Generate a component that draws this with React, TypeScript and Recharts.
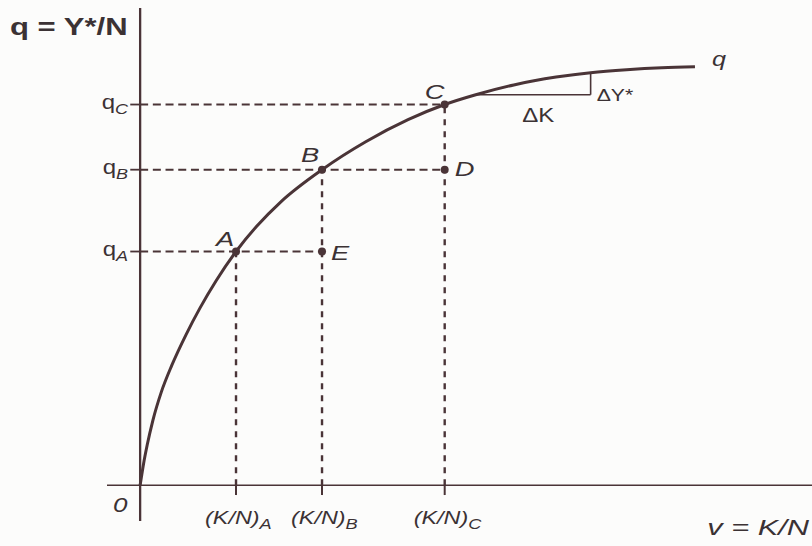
import React from 'react';
import { ComposedChart, Line, XAxis, YAxis, ReferenceLine, ReferenceDot } from 'recharts';

// production function q = f(v), sampled off the figure
const curveV = [0, 0.05, 0.1, 0.18, 0.3, 0.45, 0.65, 0.85, 1.08, 1.36, 1.65, 2.0, 2.58, 3.2, 3.8, 4.32, 4.76, 5.3, 5.9, 6.39, 6.9, 7.4, 7.87];
const curveQ = [0, 0.45, 0.82, 1.32, 1.9, 2.45, 3.07, 3.62, 4.18, 4.77, 5.28, 5.79, 6.44, 7.01, 7.46, 7.77, 7.97, 8.17, 8.33, 8.42, 8.48, 8.52, 8.54];

const points = ['A', 'B', 'C'];
const kTicks = [1.36, 2.58, 4.32];
const qTicks = [4.77, 6.44, 7.77];

// the ΔK / ΔY* step on the flat part of the curve
const stepV = [4.76, 6.39];
const stepQ = [7.97, 8.42];

const INK = '#3b3234';
const LINE = '#4a3437';
const FONT = '"Liberation Sans", Arial, sans-serif';

const data = curveV.map((v, i) => ({ v, q: curveQ[i] }));

type TxtProps = {
  x: number;
  y: number;
  size?: number;
  italic?: boolean;
  bold?: boolean;
  anchor?: 'start' | 'middle' | 'end';
  stretch?: number;
  children: React.ReactNode;
};

// the book's lettering is a wide grotesque, so glyphs get stretched sideways
const Txt = ({ x, y, size = 20, italic = true, bold = false, anchor = 'middle', stretch = 1.3, children }: TxtProps) => (
  <g transform={`translate(${x},${y}) scale(${stretch},1)`}>
    <text
      x={0}
      y={0}
      fill={INK}
      fontFamily={FONT}
      fontSize={size}
      fontStyle={italic ? 'italic' : 'normal'}
      fontWeight={bold ? 700 : 400}
      textAnchor={anchor}
    >
      {children}
    </text>
  </g>
);

const tag = (text: React.ReactNode, dx: number, dy: number, opts: Partial<TxtProps> = {}) => (props: any) => {
  const vb = props.viewBox || {};
  const cx = (vb.x ?? 0) + (vb.width ?? 0) / 2;
  const cy = (vb.y ?? 0) + (vb.height ?? 0) / 2;
  return (
    <Txt x={cx + dx} y={cy + dy} {...opts}>
      {text}
    </Txt>
  );
};

const KTick = ({ x, y, payload }: any) => {
  const i = kTicks.indexOf(payload.value);
  return (
    <Txt x={x - 31} y={y + 3} size={18} anchor="start">
      (K/N)
      <tspan fontSize={14} dy={5}>
        {points[i]}
      </tspan>
    </Txt>
  );
};

const QTick = ({ x, y, payload }: any) => {
  const i = qTicks.indexOf(payload.value);
  return (
    <Txt x={x + 21} y={y + 4} size={20} italic={false} anchor="end" stretch={1.2}>
      q
      <tspan fontSize={15} fontStyle="italic" dy={5}>
        {points[i]}
      </tspan>
    </Txt>
  );
};

const yTitle = (props: any) => {
  const vb = props.viewBox || { x: 0, y: 8 };
  return (
    <Txt x={vb.x + 10} y={vb.y + 27} size={23} italic={false} bold anchor="start" stretch={1.35}>
      q = Y*/N
    </Txt>
  );
};

// x title hangs under the right end of the horizontal axis line
const xTitle = (props: any) => {
  const vb = props.viewBox || { x: 107, y: 485, width: 705 };
  return (
    <Txt x={vb.x + vb.width - 3} y={vb.y + 50} size={22} anchor="end" stretch={1.4}>
      v = K/N
    </Txt>
  );
};

const pointTags = [
  tag('A', -11, -6, { size: 21 }),
  tag('B', -12, -8, { size: 21 }),
  tag('C', -10, -6, { size: 21 }),
];

const dash = { stroke: LINE, strokeWidth: 2, strokeDasharray: '8 4.7' };
const vdash = { stroke: LINE, strokeWidth: 2.4, strokeDasharray: '6 6' };

export default function App() {
  const last = data[data.length - 1];
  return (
    <div style={{ position: 'absolute', left: 0, top: 0, width: 812, height: 546, background: '#fcfcfb' }}>
      <ComposedChart width={812} height={546} data={data} margin={{ top: 8, right: 0, bottom: 0, left: 0 }}>
        <XAxis
          dataKey="v"
          type="number"
          domain={[-0.47, 9.53]}
          allowDataOverflow
          ticks={kTicks}
          interval={0}
          axisLine={false}
          tickLine={false}
          tickSize={0}
          tickMargin={0}
          height={25}
          tick={(p: any) => <KTick {...p} />}
        />
        <YAxis
          type="number"
          domain={[-0.73, 9.74]}
          allowDataOverflow
          ticks={qTicks}
          interval={0}
          axisLine={false}
          tickLine={false}
          tickSize={0}
          tickMargin={0}
          width={107}
          tick={(p: any) => <QTick {...p} />}
          label={yTitle}
        />

        {/* axes through the origin */}
        <ReferenceLine x={0} stroke={LINE} strokeWidth={2.3} />
        <ReferenceLine y={0} stroke={LINE} strokeWidth={1.7} label={xTitle} />

        {/* q ticks and horizontal guides: qA→E, qB→D, qC→C */}
        {qTicks.map((q, i) => (
          <ReferenceLine key={`qt-${i}`} segment={[{ x: -0.14, y: q }, { x: 0, y: q }]} stroke={LINE} strokeWidth={1.8} />
        ))}
        {qTicks.map((q, i) => (
          <ReferenceLine
            key={`qh-${i}`}
            segment={[{ x: 0, y: q }, { x: kTicks[Math.min(i + 1, kTicks.length - 1)], y: q }]}
            {...dash}
          />
        ))}

        {/* K/N ticks and vertical guides */}
        {kTicks.map((k, i) => (
          <ReferenceLine key={`kv-${i}`} segment={[{ x: k, y: 0 }, { x: k, y: qTicks[i] }]} {...vdash} />
        ))}
        {kTicks.map((k, i) => (
          <ReferenceLine key={`kt-${i}`} segment={[{ x: k, y: -0.2 }, { x: k, y: 0 }]} stroke={LINE} strokeWidth={2} />
        ))}

        {/* ΔK / ΔY* step */}
        <ReferenceLine segment={[{ x: stepV[0], y: stepQ[0] }, { x: stepV[1], y: stepQ[0] }]} stroke={LINE} strokeWidth={1.6} />
        <ReferenceLine segment={[{ x: stepV[1], y: stepQ[0] }, { x: stepV[1], y: stepQ[1] }]} stroke={LINE} strokeWidth={1.6} />

        <Line type="monotone" dataKey="q" stroke={LINE} strokeWidth={3} dot={false} isAnimationActive={false} />

        {kTicks.map((k, i) => (
          <ReferenceDot key={`p-${i}`} x={k} y={qTicks[i]} r={4} fill={LINE} stroke="none" label={pointTags[i]} />
        ))}
        <ReferenceDot x={kTicks[1]} y={qTicks[0]} r={4} fill={LINE} stroke="none" label={tag('E', 18, 8, { size: 21 })} />
        <ReferenceDot x={kTicks[2]} y={qTicks[1]} r={4} fill={LINE} stroke="none" label={tag('D', 20, 6, { size: 21 })} />

        <ReferenceDot x={0} y={0} r={0} fill="none" stroke="none" label={tag('0', -20, 27, { size: 20 })} />
        <ReferenceDot x={last.v} y={last.q} r={0} fill="none" stroke="none" label={tag('q', 17, -1, { size: 21, anchor: 'start', stretch: 1.2 })} />
        <ReferenceDot x={stepV[1]} y={stepQ[0]} r={0} fill="none" stroke="none" label={tag('ΔY*', 6, 6, { size: 17, italic: false, anchor: 'start', stretch: 1.25 })} />
        <ReferenceDot
          x={(stepV[0] + stepV[1]) / 2}
          y={stepQ[0]}
          r={0}
          fill="none"
          stroke="none"
          label={tag('ΔK', 5, 27, { size: 20, italic: false, stretch: 1.2 })}
        />
      </ComposedChart>
    </div>
  );
}
